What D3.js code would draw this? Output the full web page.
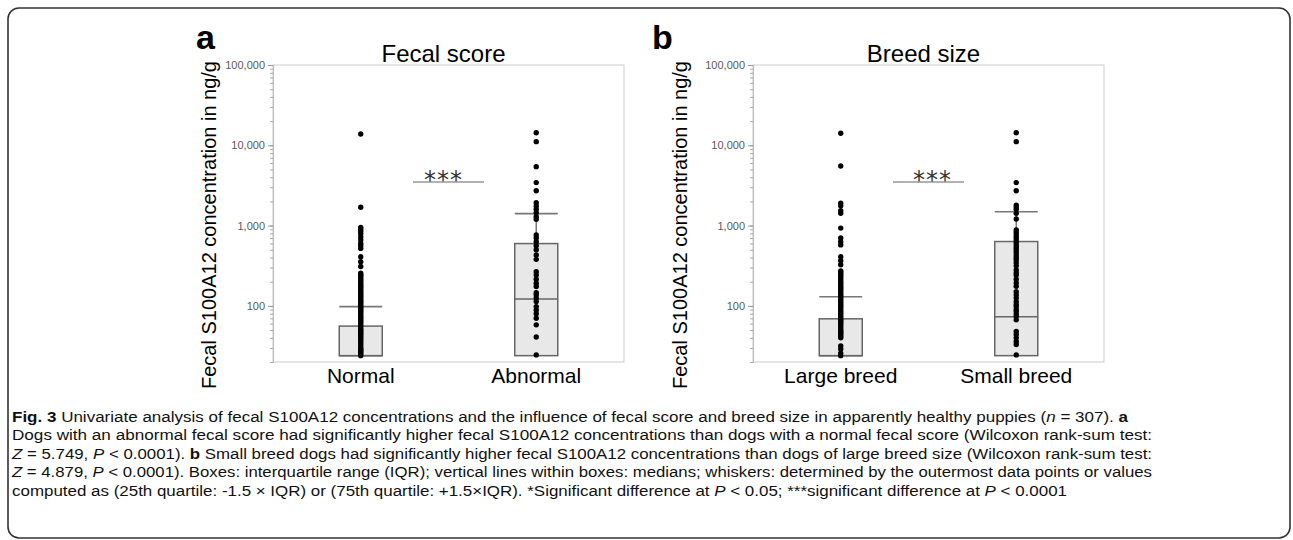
<!DOCTYPE html>
<html>
<head>
<meta charset="utf-8">
<script src="https://d3js.org/d3.v7.min.js"></script>
<style>
  body { margin: 0; background: #fff; }
  svg { display: block; }
</style>
</head>
<body>
<svg id="fig" width="1293" height="540"></svg>
<script>

// categories
var fecalGroups = ["Normal", "Abnormal"];
var breedGroups = ["Large breed", "Small breed"];
var yTicks = [100, 1000, 10000, 100000];

// box stats: [q1, median, q3, upper whisker]
var normalBox   = [24, 24, 56, 98];
var abnormalBox = [24, 122, 597, 1410];
var largeBox    = [24, 24, 69, 130];
var smallBox    = [24, 73, 633, 1490];

// individual dogs (ng/g)
var normalPts = [13800, 1690, 950, 900, 850, 790, 720, 660, 600, 560, 520, 410, 355, 310,
  255, 245, 235, 225, 215, 205, 195, 185, 178, 170, 162, 155, 148, 141, 135, 129, 123, 117,
  112, 107, 102, 97, 93, 89, 85, 81, 77, 73, 70, 67, 64, 61, 58, 55, 52, 50, 48, 46, 44, 42,
  40, 38, 36, 34, 32, 30, 29, 28, 27, 26, 25, 24];
var abnormalPts = [14350, 11100, 5420, 3430, 2720, 1930, 1750, 1600, 1450, 1290, 1200, 765,
  700, 630, 560, 500, 430, 380, 267, 243, 215, 192, 174, 146, 137, 125, 113, 98, 89, 80, 70,
  58, 41, 24.5];
var largePts = [14100, 5530, 1900, 1760, 1530, 1420, 930, 700, 630, 575, 410, 365, 325, 272,
  260, 248, 236, 224, 212, 200, 190, 180, 171, 162, 154, 146, 139, 132, 125, 119, 113, 107,
  102, 97, 92, 87, 83, 79, 75, 71, 68, 65, 62, 59, 56, 53, 50, 48, 46, 44, 42, 40, 31.7, 29,
  25.8, 24];
var smallPts = [14350, 11100, 3430, 2720, 1800, 1700, 1600, 1420, 1210, 880, 820, 765, 710,
  660, 615, 575, 535, 500, 465, 430, 400, 375, 345, 315, 280, 257, 243, 215, 193, 175, 150,
  137, 125, 113, 104, 98, 90, 85, 79, 74, 67, 48, 44, 40, 36, 33, 24.5];

var captionLines = [
  [["b", "Fig. 3"], ["", " Univariate analysis of fecal S100A12 concentrations and the influence of fecal score and breed size in apparently healthy puppies ("], ["i", "n"], ["", " = 307). "], ["b", "a"]],
  [["", "Dogs with an abnormal fecal score had significantly higher fecal S100A12 concentrations than dogs with a normal fecal score (Wilcoxon rank-sum test:"]],
  [["i", "Z"], ["", " = 5.749, "], ["i", "P"], ["", " < 0.0001). "], ["b", "b"], ["", " Small breed dogs had significantly higher fecal S100A12 concentrations than dogs of large breed size (Wilcoxon rank-sum test:"]],
  [["i", "Z"], ["", " = 4.879, "], ["i", "P"], ["", " < 0.0001). Boxes: interquartile range (IQR); vertical lines within boxes: medians; whiskers: determined by the outermost data points or values"]],
  [["", "computed as (25th quartile: -1.5 \u00d7 IQR) or (75th quartile: +1.5\u00d7IQR). *Significant difference at "], ["i", "P"], ["", " < 0.05; ***significant difference at "], ["i", "P"], ["", " < 0.0001"]]
];
var captionWidths = [1116, 1140, 1140, 1140, 1055];

var svg = d3.select("#fig");

// outer frame
svg.append("rect")
    .attr("x", 8).attr("y", 8)
    .attr("width", 1282).attr("height", 530)
    .attr("rx", 11)
    .attr("fill", "none")
    .attr("stroke", "#333")
    .attr("stroke-width", 1.6);

var y = d3.scaleLog().domain([20, 100000]).range([362, 65]);

function drawPanel(opt) {
  var x0 = opt.left, x1 = opt.left + 351;
  var x = d3.scalePoint().domain(opt.groups).range([x0, x1]).padding(0.5);
  var g = svg.append("g");
  var mid = (x0 + x1) / 2;

  // plot frame
  g.append("rect")
      .attr("x", x0).attr("y", y(100000))
      .attr("width", x1 - x0).attr("height", y(20) - y(100000))
      .attr("fill", "none")
      .attr("stroke", "#d4d4d4")
      .attr("stroke-width", 1.2);

  // y axis with log minor ticks
  var minor = [];
  for (var p = 10; p < 100000; p *= 10) {
    for (var k = 1; k < 10; k++) if (p * k >= 20 && p * k <= 100000) minor.push(p * k);
  }
  var ax = g.append("g")
      .attr("transform", "translate(" + x0 + ",0)")
      .call(d3.axisLeft(y).tickValues(minor).tickSize(3).tickFormat(""));
  ax.selectAll("line").attr("stroke", "#aaa");
  ax.select(".domain").attr("stroke", "#bbb");

  var maj = g.append("g")
      .attr("transform", "translate(" + x0 + ",0)")
      .call(d3.axisLeft(y).tickValues(yTicks).tickSize(5).tickPadding(3).tickFormat(d3.format(",")));
  maj.select(".domain").remove();
  maj.selectAll("line").attr("stroke", "#999");
  maj.selectAll("text")
      .attr("fill", "#5a5a5a")
      .style("font-family", "Liberation Sans, Arial, sans-serif")
      .style("font-size", "11px");

  // boxes
  opt.boxes.forEach(function(b, i) {
    var cx = x(opt.groups[i]), hw = 21.5;
    g.append("line")
        .attr("x1", cx).attr("x2", cx)
        .attr("y1", y(b[2])).attr("y2", y(b[3]))
        .attr("stroke", "#777").attr("stroke-width", 1.5);
    g.append("rect")
        .attr("x", cx - hw).attr("y", y(b[2]))
        .attr("width", hw * 2).attr("height", y(b[0]) - y(b[2]))
        .attr("fill", "#e8e8e8")
        .attr("stroke", "#666").attr("stroke-width", 1.5);
    g.append("line")
        .attr("x1", cx - hw).attr("x2", cx + hw)
        .attr("y1", y(b[1])).attr("y2", y(b[1]))
        .attr("stroke", "#666").attr("stroke-width", 1.5);
    g.append("line")
        .attr("x1", cx - hw).attr("x2", cx + hw)
        .attr("y1", y(b[3])).attr("y2", y(b[3]))
        .attr("stroke", "#777").attr("stroke-width", 1.6);
  });

  // points
  opt.points.forEach(function(pts, i) {
    g.selectAll(null)
        .data(pts)
        .enter().append("circle")
        .attr("cx", x(opt.groups[i]))
        .attr("cy", function(d) { return y(d); })
        .attr("r", 2.7)
        .attr("fill", "#000");
  });

  // category labels
  g.selectAll(null)
      .data(opt.groups)
      .enter().append("text")
      .attr("x", function(d) { return x(d); })
      .attr("y", 383)
      .attr("text-anchor", "middle")
      .style("font-family", "Liberation Sans, Arial, sans-serif")
      .style("font-size", "21px")
      .text(function(d) { return d; });

  // title
  g.append("text")
      .attr("x", mid - 5).attr("y", 62)
      .attr("text-anchor", "middle")
      .style("font-family", "Liberation Sans, Arial, sans-serif")
      .style("font-size", "24px")
      .text(opt.title);

  // panel letter
  g.append("text")
      .attr("x", opt.letterX).attr("y", 49)
      .style("font-family", "Liberation Sans, Arial, sans-serif")
      .style("font-size", "34px")
      .style("font-weight", "bold")
      .text(opt.letter);

  // y label
  g.append("text")
      .attr("transform", "translate(" + opt.labelX + ",225) rotate(-90)")
      .attr("text-anchor", "middle")
      .style("font-family", "Liberation Sans, Arial, sans-serif")
      .style("font-size", "20px")
      .text("Fecal S100A12 concentration in ng/g");

  // significance bar
  g.append("line")
      .attr("x1", mid - 35.5).attr("x2", mid + 35.5)
      .attr("y1", 182).attr("y2", 182)
      .attr("stroke", "#999").attr("stroke-width", 1.5);
  g.append("text")
      .attr("x", mid + opt.starShift).attr("y", 188)
      .attr("text-anchor", "middle")
      .style("font-family", "DejaVu Sans, sans-serif")
      .style("font-size", "24px")
      .style("letter-spacing", "1px")
      .attr("fill", "#333")
      .text("***");
}

drawPanel({
  left: 273, groups: fecalGroups, boxes: [normalBox, abnormalBox],
  points: [normalPts, abnormalPts], title: "Fecal score", letter: "a",
  letterX: 196, labelX: 216, starShift: -5
});
drawPanel({
  left: 753, groups: breedGroups, boxes: [largeBox, smallBox],
  points: [largePts, smallPts], title: "Breed size", letter: "b",
  letterX: 652, labelX: 687, starShift: 4
});

// caption
captionLines.forEach(function(line, i) {
  var t = svg.append("text")
      .attr("x", 12)
      .attr("y", 421.5 + i * 18.6)
      .attr("textLength", captionWidths[i])
      .attr("lengthAdjust", "spacingAndGlyphs")
      .style("font-family", "Liberation Sans Narrow, Liberation Sans, Arial, sans-serif")
      .style("font-size", "15.5px")
      .attr("fill", "#111");
  line.forEach(function(seg) {
    var s = t.append("tspan").text(seg[1]);
    if (seg[0] == "b") s.style("font-weight", "bold");
    if (seg[0] == "i") s.style("font-style", "italic");
  });
});

</script>
</body>
</html>
